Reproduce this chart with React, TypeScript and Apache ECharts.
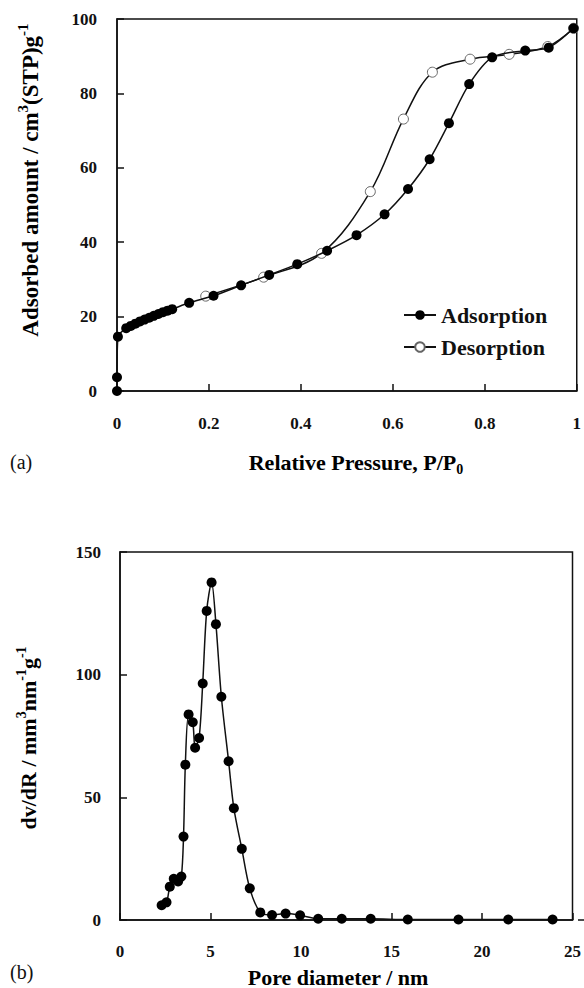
import React, { useEffect, useRef } from 'react';
import * as echarts from 'echarts';

// (a) N2 isotherm
const adsorptionP = [0, 0, 0.002, 0.02, 0.03, 0.04, 0.05, 0.06, 0.07, 0.08, 0.09, 0.1, 0.11, 0.12, 0.157, 0.21, 0.27, 0.331, 0.392, 0.457, 0.521, 0.582, 0.633, 0.68, 0.722, 0.766, 0.816, 0.888, 0.939, 0.993];
const adsorptionV = [0, 3.7, 14.6, 16.9, 17.5, 18.1, 18.7, 19.2, 19.7, 20.2, 20.7, 21.2, 21.6, 22.0, 23.7, 25.6, 28.4, 31.2, 34.1, 37.7, 41.9, 47.5, 54.3, 62.3, 72.0, 82.5, 89.7, 91.5, 92.3, 97.5];
const desorptionP = [0.193, 0.319, 0.445, 0.551, 0.623, 0.686, 0.768, 0.853, 0.937, 0.993];
const desorptionV = [25.5, 30.6, 37.0, 53.6, 73.1, 85.7, 89.2, 90.5, 92.6, 97.5];

// (b) pore size distribution
const poreD = [2.3, 2.57, 2.75, 2.97, 3.21, 3.39, 3.51, 3.61, 3.79, 4.02, 4.15, 4.37, 4.57, 4.79, 5.06, 5.3, 5.6, 6.0, 6.29, 6.73, 7.17, 7.75, 8.4, 9.15, 9.95, 10.95, 12.25, 13.85, 15.9, 18.7, 21.45, 23.9];
const poreV = [6.0, 7.2, 13.6, 16.8, 15.7, 17.7, 34.0, 63.3, 83.8, 80.6, 70.2, 74.2, 96.4, 126.0, 137.6, 120.6, 91.0, 64.7, 45.6, 29.0, 12.9, 3.1, 2.0, 2.6, 1.9, 0.5, 0.5, 0.5, 0.2, 0.2, 0.2, 0.2];

const FONT = "'Liberation Serif', 'Times New Roman', serif";
const INK = '#111';

const zip = (xs: number[], ys: number[]) => xs.map((x, i) => [x, ys[i]]);

export default function App() {
  const ref = useRef<HTMLDivElement>(null);
  useEffect(() => {
    const chart = echarts.init(ref.current!, null, { renderer: 'svg' });
    const axisLine = { show: true, onZero: false, lineStyle: { color: INK, width: 1.5 } };
    const axisTick = { show: true, inside: true, length: 7, lineStyle: { color: INK, width: 1.5 } };
    const labelStyle = { fontFamily: FONT, fontWeight: 'bold', fontSize: 17, color: INK };
    const makeRich = (size: number) => ({
      b: { fontFamily: FONT, fontWeight: 'bold', fontSize: size, color: INK, lineHeight: size + 6 },
      sup: { fontFamily: FONT, fontWeight: 'bold', fontSize: Math.round(size * 0.64), color: INK, verticalAlign: 'top', lineHeight: 16 },
      sub: { fontFamily: FONT, fontWeight: 'bold', fontSize: Math.round(size * 0.64), color: INK, verticalAlign: 'bottom', lineHeight: 16 },
    });
    const xRich = makeRich(22);
    const yRich = makeRich(23);
    chart.setOption({
      animation: false,
      backgroundColor: '#fff',
      grid: [
        { left: 117, top: 19, width: 462, height: 372, show: true, borderColor: INK, borderWidth: 1.5, backgroundColor: 'transparent' },
        { left: 120, top: 552, width: 458, height: 368, show: true, borderColor: INK, borderWidth: 1.5, backgroundColor: 'transparent' },
      ],
      xAxis: [
        {
          type: 'value', gridIndex: 0, min: 0, max: 1, interval: 0.2,
          axisLine, axisTick, splitLine: { show: false },
          axisLabel: { ...labelStyle, margin: 24, formatter: (v: number) => String(Number(v.toFixed(1))) },
        },
        {
          type: 'value', gridIndex: 1, min: 0, max: 25, interval: 5,
          axisLine, axisTick, splitLine: { show: false },
          axisLabel: { ...labelStyle, margin: 23 },
        },
      ],
      yAxis: [
        {
          type: 'value', gridIndex: 0, min: 0, max: 100, interval: 20,
          axisLine, axisTick, splitLine: { show: false },
          axisLabel: { ...labelStyle, margin: 20 },
        },
        {
          type: 'value', gridIndex: 1, min: 0, max: 150, interval: 50,
          axisLine, axisTick, splitLine: { show: false },
          axisLabel: { ...labelStyle, margin: 19 },
        },
      ],
      legend: {
        data: ['Adsorption', 'Desorption'],
        orient: 'vertical',
        left: 398,
        top: 299,
        itemWidth: 32,
        itemHeight: 12,
        itemGap: 10,
        textStyle: { fontFamily: FONT, fontWeight: 'bold', fontSize: 22, color: INK },
        selectedMode: false,
      },
      series: [
        {
          name: 'Desorption', type: 'line', xAxisIndex: 0, yAxisIndex: 0,
          data: zip(desorptionP, desorptionV), smooth: 0.35,
          symbol: 'circle', symbolSize: 10,
          itemStyle: { color: '#fff', borderColor: '#666', borderWidth: 1 },
          lineStyle: { color: INK, width: 1.5 }, silent: true, z: 2,
        },
        {
          name: 'Adsorption', type: 'line', xAxisIndex: 0, yAxisIndex: 0,
          data: zip(adsorptionP, adsorptionV), smooth: 0.3,
          symbol: 'circle', symbolSize: 10,
          itemStyle: { color: '#000' },
          lineStyle: { color: INK, width: 1.5 }, silent: true, z: 3,
        },
        {
          name: 'PSD', type: 'line', xAxisIndex: 1, yAxisIndex: 1,
          data: zip(poreD, poreV), smooth: 0.3,
          symbol: 'circle', symbolSize: 10,
          itemStyle: { color: '#000' },
          lineStyle: { color: INK, width: 1.5 }, silent: true, z: 3,
        },
      ],
      graphic: [
        {
          type: 'text', x: 30, y: 180, rotation: Math.PI / 2,
          style: { text: '{b|Adsorbed amount / cm}{sup|3}{b|(STP)g}{sup|-1}', rich: yRich, align: 'center', verticalAlign: 'middle' },
        },
        {
          type: 'text', x: 356, y: 462,
          style: { text: '{b|Relative Pressure, P/P}{sub|0}', rich: xRich, align: 'center', verticalAlign: 'middle' },
        },
        {
          type: 'text', x: 10, y: 462,
          style: { text: '(a)', fontFamily: FONT, fontSize: 20, fill: INK, align: 'left', verticalAlign: 'middle' },
        },
        {
          type: 'text', x: 28, y: 738, rotation: Math.PI / 2,
          style: { text: '{b|dv/dR / mm}{sup|3}{b|nm}{sup|-1}{b|g}{sup|-1}', rich: xRich, align: 'center', verticalAlign: 'middle' },
        },
        {
          type: 'text', x: 338, y: 977,
          style: { text: '{b|Pore diameter / nm}', rich: xRich, align: 'center', verticalAlign: 'middle' },
        },
        {
          type: 'text', x: 10, y: 972,
          style: { text: '(b)', fontFamily: FONT, fontSize: 20, fill: INK, align: 'left', verticalAlign: 'middle' },
        },
        {
          type: 'line', shape: { x1: 578, y1: 920, x2: 584, y2: 920 },
          style: { stroke: INK, lineWidth: 1.5 },
        },
      ],
    });
    return () => chart.dispose();
  }, []);
  return (
    <div
      ref={ref}
      style={{ position: 'absolute', left: 0, top: 0, width: 584, height: 988, background: '#fff' }}
    />
  );
}
